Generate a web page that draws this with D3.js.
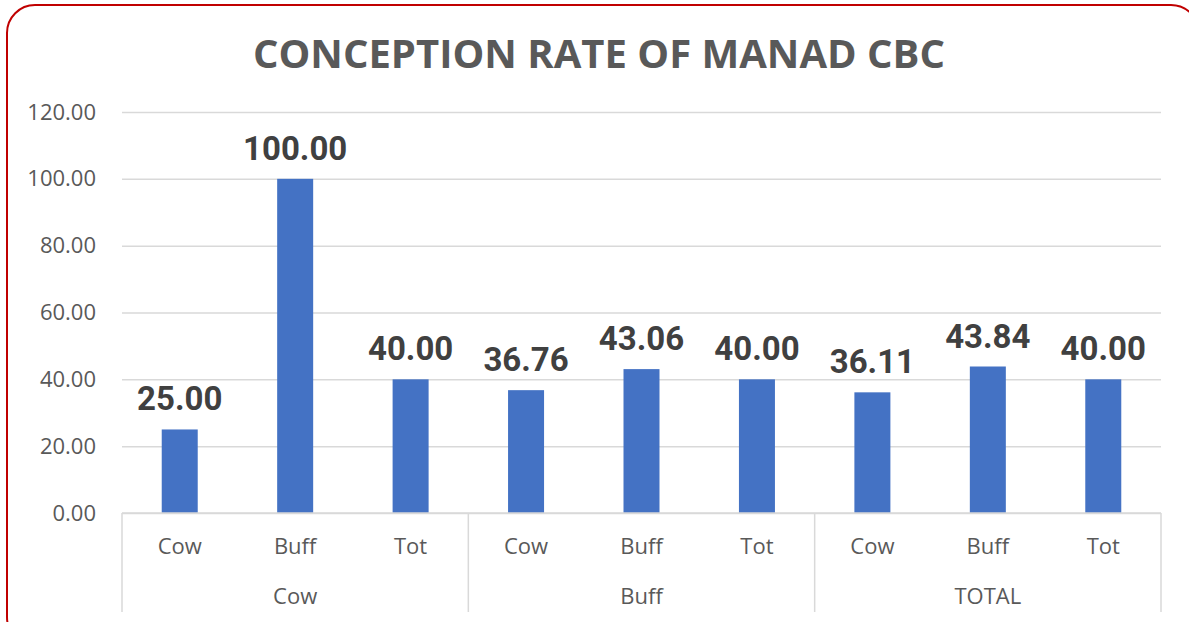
<!DOCTYPE html>
<html>
<head>
<meta charset="utf-8">
<script src="https://cdn.jsdelivr.net/npm/d3@7"></script>
<style>
  body { margin: 0; background: #fff; }
  svg { display: block; }
</style>
</head>
<body>
<div id="chart"></div>
<script>
// chart values
const groups = ["Cow", "Buff", "TOTAL"];
const subCats = ["Cow", "Buff", "Tot"];
const values = [25.00, 100.00, 40.00, 36.76, 43.06, 40.00, 36.11, 43.84, 40.00];
const yTicks = [0, 20, 40, 60, 80, 100, 120];

const width = 1189, height = 622;
const margin = {left: 122, right: 28, top: 112, bottom: 109};

const svg = d3.select("#chart").append("svg")
  .attr("width", width).attr("height", height);

// frame with rounded corners, runs off the right and bottom edge
svg.append("rect")
  .attr("x", 7).attr("y", 5)
  .attr("width", 1192).attr("height", 640)
  .attr("rx", 28).attr("ry", 28)
  .attr("fill", "#fff")
  .attr("stroke", "#c00000")
  .attr("stroke-width", 2);

svg.append("text")
  .attr("x", 599).attr("y", 68)
  .attr("text-anchor", "middle")
  .attr("textLength", 692)
  .attr("lengthAdjust", "spacingAndGlyphs")
  .style("font-family", "'Open Sans', sans-serif")
  .style("font-weight", "bold")
  .style("font-size", "40px")
  .style("fill", "#595959")
  .text("CONCEPTION RATE OF MANAD CBC");

// build flat list of categories
const cats = [];
groups.forEach(function(g, gi) {
  subCats.forEach(function(s, si) {
    cats.push({group: g, sub: s, key: gi + "-" + si, value: values[gi * subCats.length + si]});
  });
});

const x = d3.scaleBand()
  .domain(cats.map(function(d) { return d.key; }))
  .range([margin.left, width - margin.right])
  .paddingInner(0).paddingOuter(0);

const y = d3.scaleLinear()
  .domain([0, 120])
  .range([height - margin.bottom, margin.top]);

// gridlines + y labels
const yAxis = d3.axisLeft(y)
  .tickValues(yTicks)
  .tickSize(-(width - margin.left - margin.right))
  .tickPadding(26)
  .tickFormat(d3.format(".2f"));

const gy = svg.append("g")
  .attr("transform", "translate(" + margin.left + ",0)")
  .call(yAxis);
gy.select(".domain").remove();
gy.selectAll(".tick line").attr("stroke", "#d9d9d9").attr("stroke-width", 1.5);
gy.selectAll(".tick text")
  .style("font-family", "'Open Sans', sans-serif")
  .style("font-size", "22px")
  .style("fill", "#595959");

// bars
const barW = 36;
svg.selectAll("rect.bar")
  .data(cats)
  .enter()
  .append("rect")
  .attr("class", "bar")
  .attr("x", function(d) { return x(d.key) + x.bandwidth() / 2 - barW / 2; })
  .attr("width", barW)
  .attr("y", function(d) { return y(d.value); })
  .attr("height", function(d) { return y(0) - y(d.value); })
  .attr("fill", "#4472c4");

// value labels
svg.selectAll("text.val")
  .data(cats)
  .enter()
  .append("text")
  .attr("class", "val")
  .attr("x", function(d) { return x(d.key) + x.bandwidth() / 2; })
  .attr("y", function(d) { return y(d.value) - 19; })
  .attr("text-anchor", "middle")
  .style("font-family", "Roboto, sans-serif")
  .style("font-weight", "bold")
  .style("font-size", "33px")
  .style("fill", "#404040")
  .text(function(d) { return d.value.toFixed(2); });

// category axis
const y0 = y(0);
svg.append("line")
  .attr("x1", margin.left).attr("x2", width - margin.right)
  .attr("y1", y0).attr("y2", y0)
  .attr("stroke", "#d9d9d9").attr("stroke-width", 1.5);

const n = subCats.length;
const seps = d3.range(groups.length + 1).map(function(i) {
  return i < groups.length ? x(cats[i * n].key) : width - margin.right;
});
svg.selectAll("line.sep")
  .data(seps)
  .enter()
  .append("line")
  .attr("class", "sep")
  .attr("x1", function(d) { return d; }).attr("x2", function(d) { return d; })
  .attr("y1", y0).attr("y2", 612)
  .attr("stroke", "#d9d9d9").attr("stroke-width", 1.5);

svg.selectAll("text.sub")
  .data(cats)
  .enter()
  .append("text")
  .attr("class", "sub")
  .attr("x", function(d) { return x(d.key) + x.bandwidth() / 2; })
  .attr("y", 554)
  .attr("text-anchor", "middle")
  .style("font-family", "'Open Sans', sans-serif")
  .style("font-size", "22px")
  .style("fill", "#595959")
  .text(function(d) { return d.sub; });

svg.selectAll("text.grp")
  .data(groups)
  .enter()
  .append("text")
  .attr("class", "grp")
  .attr("x", function(d, i) { return (seps[i] + seps[i + 1]) / 2; })
  .attr("y", 604)
  .attr("text-anchor", "middle")
  .style("font-family", "'Open Sans', sans-serif")
  .style("font-size", "22px")
  .style("fill", "#595959")
  .text(function(d) { return d; });
</script>
</body>
</html>
